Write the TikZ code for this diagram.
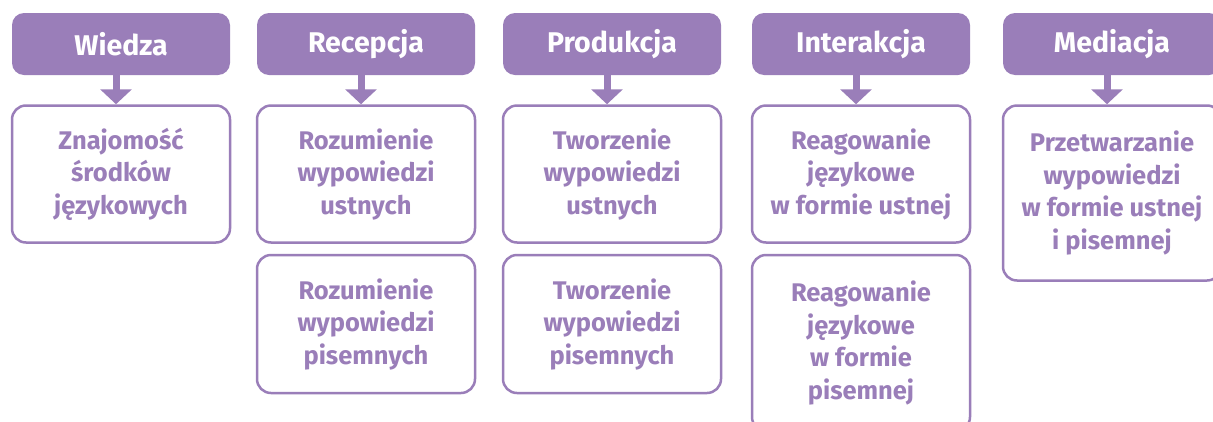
\documentclass[tikz,border=0pt]{standalone}
\usepackage{fontspec}
\setmainfont{Fira Sans}
\usetikzlibrary{arrows.meta}
\definecolor{lila}{RGB}{154,126,185}
\tikzset{
  head/.style={fill=lila, draw=none, rounded corners=12pt, minimum width=218pt, minimum height=62pt,
    text=white, font=\fontsize{28.5}{32}\selectfont\bfseries, inner sep=0pt},
  item/.style={draw=lila, line width=2.5pt, fill=white, rounded corners=14pt, minimum width=218pt,
    text=lila, align=center, font=\fontsize{25.5}{32.5}\selectfont\bfseries, inner sep=0pt},
  link/.style={draw=lila, line width=7pt, -{Triangle[width=31pt,length=15pt]}, shorten <=-1pt}
}
\begin{document}
\begin{tikzpicture}[x=1pt,y=-1pt]
\useasboundingbox (0,0) rectangle (1213,421);
\begin{scope}
\clip (0,0) rectangle (1213,421);
% headers
\node[head] (h1) at (121,44) {Wiedza};
\node[head] (h2) at (366,44) {Recepcja};
\node[head] (h3) at (612,44) {Produkcja};
\node[head] (h4) at (861,44) {Interakcja};
\node[head] (h5) at (1112,44) {Mediacja};
% first row boxes
\node[item, minimum height=137pt] (b1) at (121,174) {Znajomość\\środków\\językowych};
\node[item, minimum height=137pt] (b2) at (366,174) {Rozumienie\\wypowiedzi\\ustnych};
\node[item, minimum height=137pt] (b3) at (612,174) {Tworzenie\\wypowiedzi\\ustnych};
\node[item, minimum height=137pt] (b4) at (861,174) {Reagowanie\\językowe\\w formie ustnej};
\node[item, minimum height=175pt] (b5) at (1112,193) {Przetwarzanie\\wypowiedzi\\w formie ustnej\\i pisemnej};
% second row boxes
\node[item, minimum height=138pt] (c2) at (366,324) {Rozumienie\\wypowiedzi\\pisemnych};
\node[item, minimum height=138pt] (c3) at (612,324) {Tworzenie\\wypowiedzi\\pisemnych};
\node[item, minimum height=176pt] (c4) at (861,343) {Reagowanie\\językowe\\w formie\\pisemnej};
% arrows
\foreach \i in {1,...,5}{
  \draw[link] ([xshift=-5pt]h\i.south) -- ([xshift=-5pt]b\i.north);
}
\end{scope}
\end{tikzpicture}
\end{document}
